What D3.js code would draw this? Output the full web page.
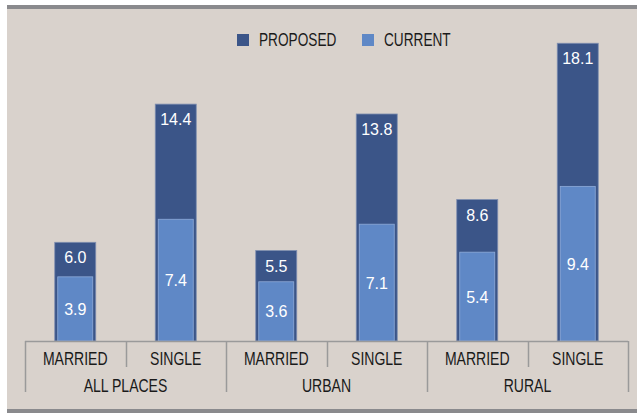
<!DOCTYPE html>
<html>
<head>
<meta charset="utf-8">
<script src="https://cdn.jsdelivr.net/npm/d3@7"></script>
<style>
  html, body { margin: 0; padding: 0; background: #fff; }
  text { font-family: "Liberation Sans", Arial, sans-serif; }
</style>
</head>
<body>
<div id="center" style="width:637px;height:413px"></div>
<script>
// chart data
const groups = ["ALL PLACES", "URBAN", "RURAL"];
const statuses = ["MARRIED", "SINGLE"];
const proposed = [6.0, 14.4, 5.5, 13.8, 8.6, 18.1];
const current = [3.9, 7.4, 3.6, 7.1, 5.4, 9.4];
const seriesNames = ["PROPOSED", "CURRENT"];

let width = 637;
let height = 413;
const svg = d3.select("#center").append("svg")
    .attr("width", width)
    .attr("height", height)

let color = { "PROPOSED": "#3b5588", "CURRENT": "#5f88c6" }
const squeeze = 0.78; // condensed look for the axis and legend text

// background panel
svg.append("rect").attr("x", 7).attr("y", 6).attr("width", width - 7).attr("height", height - 6)
    .attr("fill", "#d9d2cc");
svg.append("rect").attr("x", 7).attr("y", 5).attr("width", width - 7).attr("height", 4)
    .attr("fill", "#8a8a8d");
svg.append("rect").attr("x", 7).attr("y", 409).attr("width", width - 7).attr("height", 4)
    .attr("fill", "#8a8a8d");

let cats = [];
groups.forEach(function (g) {
    statuses.forEach(function (s) { cats.push(g + "|" + s); });
});
let data = cats.map(function (c, i) {
    return { key: c, group: c.split("|")[0], status: c.split("|")[1], proposed: proposed[i], current: current[i] };
});

let x = d3.scaleBand().domain(cats).range([25, 628]).paddingInner(0.592).paddingOuter(0.296);
let y = d3.scaleLinear().domain([0, 20]).range([341, 12]);

// proposed bars
svg.selectAll("rect.prop")
    .data(data)
    .enter()
    .append("rect")
    .attr("class", "prop")
    .attr("x", function (d) { return x(d.key); })
    .attr("y", function (d) { return y(d.proposed); })
    .attr("width", x.bandwidth())
    .attr("height", function (d) { return y(0) - y(d.proposed); })
    .attr("fill", color.PROPOSED)
    .attr("stroke", "#7f8fb0")
    .attr("stroke-width", 0.8);

// current bars (narrower, in front)
svg.selectAll("rect.cur")
    .data(data)
    .enter()
    .append("rect")
    .attr("class", "cur")
    .attr("x", function (d) { return x(d.key) + 3; })
    .attr("y", function (d) { return y(d.current); })
    .attr("width", x.bandwidth() - 6)
    .attr("height", function (d) { return y(0) - y(d.current); })
    .attr("fill", color.CURRENT)
    .attr("stroke", "#8fabd8")
    .attr("stroke-width", 0.8);

// value labels
svg.selectAll("text.pl")
    .data(data)
    .enter()
    .append("text")
    .attr("x", function (d) { return x(d.key) + x.bandwidth() / 2; })
    .attr("y", function (d) { return y(d.proposed) + 21; })
    .attr("text-anchor", "middle")
    .attr("fill", "#fff")
    .attr("font-size", 16)
    .text(function (d) { return d.proposed.toFixed(1); });
svg.selectAll("text.cl")
    .data(data)
    .enter()
    .append("text")
    .attr("x", function (d) { return x(d.key) + x.bandwidth() / 2; })
    .attr("y", function (d) { return (y(d.current) + y(0)) / 2 + 6; })
    .attr("text-anchor", "middle")
    .attr("fill", "#fff")
    .attr("font-size", 16)
    .text(function (d) { return d.current.toFixed(1); });

// category axis
const axisColor = "#9a9a9a";
let step = x.step();
svg.append("line").attr("x1", 25).attr("x2", 628).attr("y1", 341.5).attr("y2", 341.5)
    .attr("stroke", axisColor).attr("stroke-width", 1.5);
cats.forEach(function (c, i) {
    let xl = Math.round(x(c) - x.paddingOuter() * step) + 0.5;
    svg.append("line").attr("x1", xl).attr("x2", xl).attr("y1", 341)
        .attr("y2", i % 2 === 0 ? 392 : 367)
        .attr("stroke", axisColor).attr("stroke-width", 1.5);
});
svg.append("line").attr("x1", 628.5).attr("x2", 628.5).attr("y1", 341).attr("y2", 392)
    .attr("stroke", axisColor).attr("stroke-width", 1.5);

svg.selectAll("text.sub")
    .data(data)
    .enter()
    .append("text")
    .attr("transform", function (d) {
        return "translate(" + (x(d.key) + x.bandwidth() / 2) + ",365) scale(" + squeeze + ",1)";
    })
    .attr("text-anchor", "middle")
    .attr("fill", "#1a1a1a")
    .attr("font-size", 18)
    .text(function (d) { return d.status; });

svg.selectAll("text.grp")
    .data(groups)
    .enter()
    .append("text")
    .attr("transform", function (g) {
        let cx = (x(g + "|MARRIED") + x(g + "|SINGLE") + x.bandwidth()) / 2;
        return "translate(" + cx + ",392) scale(" + squeeze + ",1)";
    })
    .attr("text-anchor", "middle")
    .attr("fill", "#1a1a1a")
    .attr("font-size", 18)
    .text(function (g) { return g; });

// legend
let legendX = [237, 362];
seriesNames.forEach(function (s, i) {
    svg.append("rect").attr("x", legendX[i]).attr("y", 34).attr("width", 12).attr("height", 12)
        .attr("fill", color[s]);
    svg.append("text")
        .attr("transform", "translate(" + (legendX[i] + 22) + ",46) scale(" + squeeze + ",1)")
        .attr("font-size", 17.5).attr("fill", "#1a1a1a").text(s);
});
</script>
</body>
</html>
